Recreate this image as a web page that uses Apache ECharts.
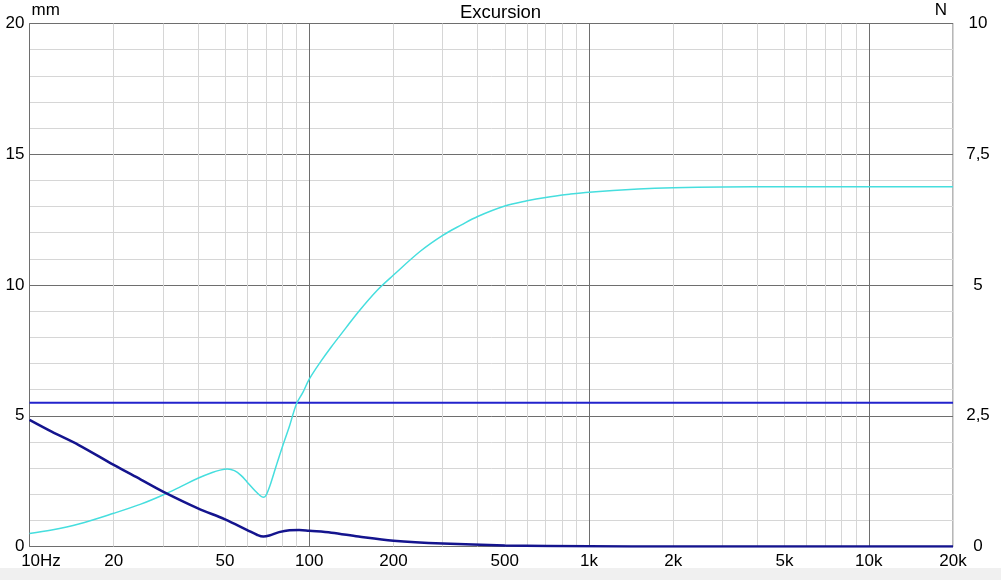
<!DOCTYPE html>
<html>
<head>
<meta charset="utf-8">
<script src="https://cdn.jsdelivr.net/npm/echarts@6/dist/echarts.min.js"></script>
<style>
	html, body { margin: 0; padding: 0; background: #fff; }
	#chart { width: 1001px; height: 580px; }
</style>
</head>
<body>
<div id="chart"></div>
<script>
// cyan curve (mm)
var cyanFreq = [10, 12, 15, 20, 25, 30, 35, 40, 45, 48, 51, 54, 57, 60, 64, 67, 68.5, 70, 73, 76, 80, 85, 90, 95, 100, 110, 120, 135, 150, 175, 200, 250, 300, 350, 400, 500, 600, 700, 850, 1000, 1500, 2000, 3000, 5000, 10000, 20000];
var cyanMm = [0.50, 0.63, 0.86, 1.27, 1.62, 1.97, 2.31, 2.61, 2.83, 2.92, 2.96, 2.90, 2.72, 2.46, 2.13, 1.93, 1.88, 1.95, 2.45, 3.05, 3.79, 4.61, 5.45, 5.90, 6.40, 7.08, 7.64, 8.35, 8.98, 9.80, 10.38, 11.30, 11.90, 12.30, 12.62, 13.02, 13.22, 13.35, 13.47, 13.55, 13.67, 13.72, 13.75, 13.76, 13.76, 13.76];
// dark blue curve (mm)
var navyFreq = [10, 12, 15, 20, 25, 30, 40, 50, 60, 65, 68.5, 72, 78, 85, 92, 100, 120, 150, 200, 300, 500, 1000, 2000, 5000, 20000];
var navyMm = [4.84, 4.39, 3.88, 3.12, 2.56, 2.10, 1.46, 1.04, 0.63, 0.45, 0.38, 0.42, 0.55, 0.62, 0.63, 0.60, 0.53, 0.38, 0.22, 0.11, 0.04, 0.01, 0, 0, 0];
// horizontal limit line (mm)
var limitFreq = [10, 20000];
var limitMm = [5.5, 5.5];
// axis ticks
var gridFreq = [10, 20, 30, 40, 50, 60, 70, 80, 90,
	100, 200, 300, 400, 500, 600, 700, 800, 900,
	1000, 2000, 3000, 4000, 5000, 6000, 7000, 8000, 9000,
	10000, 20000];
var labelFreq = [10, 20, 50, 100, 200, 500, 1000, 2000, 5000, 10000, 20000];

var font = 'Liberation Sans, Arial, sans-serif';
function pairs(xs, ys) {
	var out = [];
	for (var i = 0; i < xs.length; i++) out.push([xs[i], ys[i]]);
	return out;
}
function freqLabel(v) {
	if (v == 10) return '{pad|}{t|10Hz}';
	if (v >= 1000) return (v / 1000) + 'k';
	return String(v);
}

var chart = echarts.init(document.getElementById('chart'));
var option = {
	backgroundColor: '#fff',
	animation: false,
	textStyle: { fontFamily: font },
	title: {
		text: 'Excursion',
		left: 'center',
		top: 3,
		padding: 0,
		textStyle: { fontSize: 18.5, fontWeight: 'normal', color: '#000', fontFamily: font }
	},
	graphic: [{
		type: 'rect',
		left: 0,
		top: 568,
		shape: { width: 1001, height: 12 },
		style: { fill: '#f0f0f0' },
		silent: true
	}],
	grid: {
		left: 29.5,
		right: 48,
		top: 23.5,
		bottom: 33.5,
		show: true,
		borderColor: '#6e6e6e',
		borderWidth: 1,
		backgroundColor: 'transparent'
	},
	xAxis: {
		type: 'log',
		logBase: 10,
		min: 10,
		max: 20000,
		axisLine: { show: false },
		axisTick: { show: false, customValues: gridFreq },
		splitLine: {
			show: true,
			lineStyle: {
				width: 1,
				color: ['#6e6e6e', '#d6d6d6', '#d6d6d6', '#d6d6d6', '#d6d6d6', '#d6d6d6', '#d6d6d6', '#d6d6d6', '#d6d6d6']
			}
		},
		axisLabel: {
			customValues: labelFreq,
			formatter: freqLabel,
			color: '#000',
			fontSize: 17,
			fontFamily: font,
			margin: 6,
			rich: {
				pad: { width: 23, fontSize: 17 },
				t: { fontSize: 17, color: '#000', fontFamily: font }
			}
		}
	},
	yAxis: [{
		type: 'value',
		min: 0,
		max: 20,
		interval: 5,
		name: 'mm',
		nameLocation: 'end',
		nameGap: 5,
		nameTextStyle: { color: '#000', fontSize: 17, align: 'left', padding: [0, 0, 0, 2], fontFamily: font },
		axisLine: { show: false },
		axisTick: { show: false },
		axisLabel: { color: '#000', fontSize: 17, margin: 5, fontFamily: font },
		splitLine: { show: true, lineStyle: { color: '#6e6e6e', width: 1 } },
		minorTick: { show: false, splitNumber: 5 },
		minorSplitLine: { show: true, lineStyle: { color: '#d6d6d6', width: 1 } }
	}, {
		type: 'value',
		position: 'right',
		min: 0,
		max: 10,
		interval: 2.5,
		name: 'N',
		nameLocation: 'end',
		nameGap: 5,
		nameTextStyle: { color: '#000', fontSize: 17, align: 'right', padding: [0, 6, 0, 0], fontFamily: font },
		axisLine: { show: false },
		axisTick: { show: false },
		splitLine: { show: false },
		axisLabel: {
			color: '#000',
			fontSize: 17,
			margin: 25,
			align: 'center',
			fontFamily: font,
			formatter: function(v) { return String(v).replace('.', ','); }
		}
	}],
	series: [{
		name: 'limit',
		type: 'line',
		data: pairs(limitFreq, limitMm),
		symbol: 'none',
		lineStyle: { color: '#2222cc', width: 2 },
		z: 3
	}, {
		name: 'cyan',
		type: 'line',
		data: pairs(cyanFreq, cyanMm),
		symbol: 'none',
		smooth: 0.35,
		lineStyle: { color: '#46dede', width: 1.5 },
		z: 4
	}, {
		name: 'navy',
		type: 'line',
		data: pairs(navyFreq, navyMm),
		symbol: 'none',
		smooth: 0.35,
		lineStyle: { color: '#14148e', width: 2.5 },
		z: 5
	}]
};
chart.setOption(option);
</script>
</body>
</html>
